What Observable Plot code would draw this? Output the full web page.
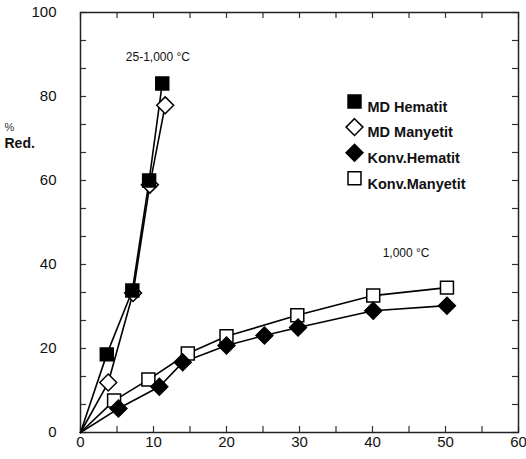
<!DOCTYPE html>
<html>
<head>
<meta charset="utf-8">
<script src="https://cdn.jsdelivr.net/npm/d3@7"></script>
<script src="https://cdn.jsdelivr.net/npm/@observablehq/plot@0.6"></script>
<style>
  html, body { margin: 0; padding: 0; background: #fff; }
  #chart { width: 526px; height: 459px; }
</style>
</head>
<body>
<div id="chart"></div>
<script>
// ---- data ----
const mdHematitX   = [0, 3.6, 7.1, 9.4, 11.2];
const mdHematitY   = [0, 18.6, 33.8, 60.0, 83.1];
const mdManyetitX  = [0, 3.8, 7.2, 9.5, 11.6];
const mdManyetitY  = [0, 11.9, 33.2, 59.0, 77.9];
const konvHematitX = [0, 5.2, 10.8, 14.0, 20.0, 25.2, 29.8, 40.1, 50.2];
const konvHematitY = [0, 5.7, 10.9, 16.7, 20.7, 23.1, 25.0, 29.0, 30.2];
const konvManyetitX = [0, 4.6, 9.3, 14.7, 20.0, 29.7, 40.1, 50.2];
const konvManyetitY = [0, 7.6, 12.6, 18.8, 22.9, 27.9, 32.6, 34.5];

const seriesNames = ["MD Hematit", "MD Manyetit", "Konv.Hematit", "Konv.Manyetit"];
const xLabelTicks = [0, 10, 20, 30, 40, 50, 60];
const xMinorTicks = [0, 5, 10, 15, 20, 25, 30, 35, 40, 45, 50, 55, 60];
const yLabelTicks = [0, 20, 40, 60, 80, 100];
const yMinorTicks = d3.range(16).map(i => i * 20 / 3);

const annotTexts = ["25-1,000 °C", "1,000 °C"];
const annotX = [10.6, 44.6];
const annotY = [89.3, 42.6];

// ---- build tables ----
const toRows = (xs, ys, name) => xs.map((x, i) => ({x, y: ys[i], name, i}));
const mdH = toRows(mdHematitX, mdHematitY, seriesNames[0]);
const mdM = toRows(mdManyetitX, mdManyetitY, seriesNames[1]);
const kH  = toRows(konvHematitX, konvHematitY, seriesNames[2]);
const kM  = toRows(konvManyetitX, konvManyetitY, seriesNames[3]);
const annots = annotTexts.map((t, i) => ({t, x: annotX[i], y: annotY[i]}));

const styleOf = {
  "MD Hematit":    {symbol: "square",   fill: "black", r: 7.3},
  "MD Manyetit":   {symbol: "diamond2", fill: "white", r: 7.6},
  "Konv.Hematit":  {symbol: "diamond2", fill: "black", r: 7.6},
  "Konv.Manyetit": {symbol: "square",   fill: "white", r: 7.3}
};

const W = 526, H = 459, ML = 80, MR = 8, MT = 12, MB = 27;
const plotW = W - ML - MR, plotH = H - MT - MB, tickLen = 6;

const lineOpts = {x: "x", y: "y", stroke: "black", strokeWidth: 1.6};
const dotOpts = (name) => ({x: "x", y: "y", symbol: styleOf[name].symbol, r: styleOf[name].r,
  fill: styleOf[name].fill, stroke: "black", strokeWidth: 1.5, filter: d => d.i > 0});

const legendMarks = seriesNames.flatMap((name, k) => [
  Plot.dot([name], {frameAnchor: "top-left", dx: 274, dy: 89 + k * 25.6,
    symbol: styleOf[name].symbol, r: styleOf[name].r, fill: styleOf[name].fill,
    stroke: "black", strokeWidth: 1.5}),
  Plot.text([name], {frameAnchor: "top-left", dx: 287, dy: 89 + k * 25.6,
    text: d => d, textAnchor: "start", fontSize: 14.5, fontWeight: "bold", fill: "#111"})
]);

const tickStyle = {stroke: "#333", strokeWidth: 1.2};

const chart = Plot.plot({
  width: W,
  height: H,
  marginLeft: ML,
  marginRight: MR,
  marginTop: MT,
  marginBottom: MB,
  style: {fontFamily: "'Liberation Sans', Arial, sans-serif", background: "white", color: "#111"},
  x: {domain: [0, 60]},
  y: {domain: [0, 100]},
  marks: [
    Plot.axisX({anchor: "bottom", ticks: xLabelTicks, tickSize: 0, tickPadding: 4, fontSize: 15, label: null}),
    Plot.axisY({anchor: "left", ticks: yLabelTicks, tickSize: 0, tickPadding: 24, fontSize: 15, label: null}),
    Plot.ruleX(xMinorTicks, {x: d => d, insetTop: plotH - tickLen, ...tickStyle}),
    Plot.ruleX(xMinorTicks, {x: d => d, insetBottom: plotH - tickLen, ...tickStyle}),
    Plot.ruleY(yMinorTicks, {y: d => d, insetRight: plotW - tickLen, ...tickStyle}),
    Plot.ruleY(yMinorTicks, {y: d => d, insetLeft: plotW - tickLen, ...tickStyle}),
    Plot.frame({stroke: "#222", strokeWidth: 1.5}),
    Plot.line(mdM, lineOpts),
    Plot.line(mdH, lineOpts),
    Plot.line(kM, lineOpts),
    Plot.line(kH, lineOpts),
    Plot.dot(mdM, dotOpts("MD Manyetit")),
    Plot.dot(mdH, dotOpts("MD Hematit")),
    Plot.dot(kM, dotOpts("Konv.Manyetit")),
    Plot.dot(kH, dotOpts("Konv.Hematit")),
    Plot.text(annots, {x: "x", y: "y", text: "t", fontSize: 12, fill: "#111"}),
    Plot.text(["%"], {frameAnchor: "top-left", dx: -76, dy: 111, text: d => d, textAnchor: "start", fontSize: 11, fill: "#333"}),
    Plot.text(["Red."], {frameAnchor: "top-left", dx: -76, dy: 126, text: d => d, textAnchor: "start", fontSize: 14, fontWeight: "bold", fill: "#111"}),
    ...legendMarks
  ]
});
document.getElementById("chart").appendChild(chart);
</script>
</body>
</html>
